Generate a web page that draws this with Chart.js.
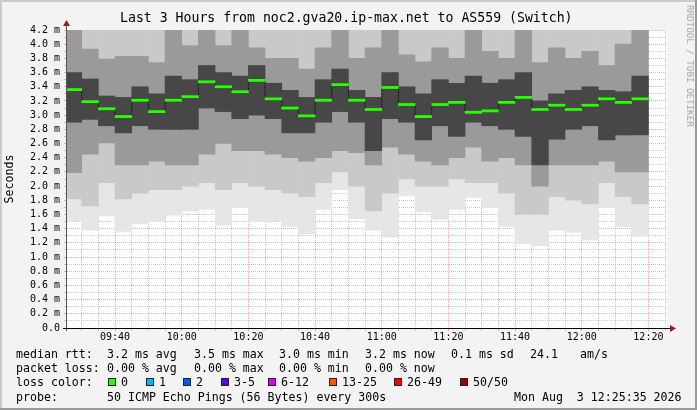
<!DOCTYPE html>
<html>
<head>
<meta charset="utf-8">
<script src="https://cdn.jsdelivr.net/npm/chart.js@4.4.1/dist/chart.umd.min.js"></script>
<style>
  html, body { margin: 0; padding: 0; background: #f3f3f3; }
  #wrap { position: relative; width: 697px; height: 410px; overflow: hidden; background: #f3f3f3; }
  #chart { position: absolute; left: 0; top: 0; }
  .t { position: absolute; font-family: "DejaVu Sans Mono", monospace; white-space: pre; color: #000; line-height: 14px; font-size: 11.6px; }
  .title { font-size: 13.2px; line-height: 16px; }
  .wm { font-size: 9.2px; color: #a4a4a4; line-height: 10px; transform: translate(-50%, -50%) rotate(90deg); }
  .box { position: absolute; width: 6px; height: 6px; border: 1px solid #222; }
</style>
</head>
<body>
<div id="wrap">
  <canvas id="chart" width="697" height="410"></canvas>
</div>
<script>
// ---------------- data ----------------
const chartTitle = "Last 3 Hours from noc2.gva20.ip-max.net to AS559 (Switch)";
const yAxisTitle = "Seconds";
const windowStart = "09:25:35";
const windowEnd = "12:25:35";

// end time of each 5-minute step
const slotEnd = ["09:30","09:35","09:40","09:45","09:50","09:55","10:00","10:05","10:10","10:15",
                 "10:20","10:25","10:30","10:35","10:40","10:45","10:50","10:55","11:00","11:05",
                 "11:10","11:15","11:20","11:25","11:30","11:35","11:40","11:45","11:50","11:55",
                 "12:00","12:05","12:10","12:15","12:20"];

// median RTT (ms)
const median = [3.36,3.19,3.09,2.98,3.21,3.05,3.21,3.26,3.47,3.40,
                3.33,3.49,3.23,3.10,2.99,3.21,3.43,3.21,3.08,3.39,
                3.15,2.98,3.15,3.18,3.04,3.06,3.18,3.25,3.08,3.14,
                3.08,3.14,3.23,3.18,3.23];

// smoke bands (ms): sorted-ping levels, lowest to highest
const rttMin = [1.51,1.38,1.58,1.36,1.47,1.50,1.59,1.65,1.67,1.45,
                1.70,1.50,1.51,1.43,1.33,1.67,1.95,1.54,1.38,1.28,
                1.86,1.64,1.53,1.67,1.84,1.70,1.43,1.19,1.16,1.38,
                1.35,1.24,1.70,1.43,1.29];
const rttP10 = [1.82,1.72,2.05,1.82,1.90,1.95,1.95,2.00,2.05,1.95,
                2.05,2.00,1.95,1.90,1.85,2.05,2.20,2.00,1.65,1.90,
                2.10,2.00,2.00,2.10,2.05,2.05,1.90,1.60,1.60,1.85,
                1.80,1.75,2.05,1.85,1.75];
const rttP25 = [2.19,2.45,2.61,2.30,2.30,2.35,2.30,2.30,2.45,2.60,
                2.50,2.50,2.45,2.40,2.35,2.40,2.50,2.47,2.30,2.55,
                2.45,2.35,2.30,2.40,2.55,2.35,2.40,2.30,2.00,2.30,
                2.30,2.30,2.35,2.20,2.20];
const rttP40 = [2.90,2.94,2.85,2.75,2.85,2.80,2.80,2.80,3.10,3.05,
                2.95,3.00,2.95,2.75,2.75,2.90,3.05,2.90,2.50,2.95,
                2.90,2.65,2.85,2.70,2.90,2.85,2.80,2.70,2.30,2.66,
                2.80,2.85,2.65,2.72,2.72];
const rttP60 = [3.60,3.51,3.27,3.25,3.40,3.30,3.55,3.50,3.70,3.60,
                3.55,3.70,3.45,3.35,3.25,3.50,3.65,3.35,3.25,3.60,
                3.40,3.30,3.50,3.45,3.55,3.45,3.50,3.60,3.20,3.30,
                3.35,3.40,3.35,3.33,3.55];
const rttP75 = [4.30,3.93,3.79,3.83,3.83,3.74,4.30,3.98,4.30,3.98,
                4.30,3.95,3.80,3.80,3.65,3.95,4.30,3.80,3.95,4.30,
                3.85,3.75,3.95,3.80,4.30,3.90,3.80,4.30,3.74,3.95,
                3.80,3.90,3.70,4.00,4.30];
const rttP90 = [4.50,4.40,4.30,4.30,4.30,4.25,4.50,4.40,4.50,4.40,
                4.50,4.40,4.30,4.30,4.20,4.40,4.50,4.30,4.30,4.50,
                4.40,4.30,4.40,4.30,4.50,4.40,4.30,4.50,4.25,4.30,
                4.30,4.30,4.25,4.35,4.50];
const rttMax = [4.80,4.80,4.80,4.80,4.80,4.80,4.80,4.80,4.80,4.80,
                4.80,4.80,4.80,4.80,4.80,4.80,4.80,4.80,4.80,4.80,
                4.80,4.80,4.80,4.80,4.80,4.80,4.80,4.80,4.80,4.80,
                4.80,4.80,4.80,4.80,4.80];

const xTickLabels = ["09:40","10:00","10:20","10:40","11:00","11:20","11:40","12:00","12:20"];
const yTickLabels = ["0.0","0.2 m","0.4 m","0.6 m","0.8 m","1.0 m","1.2 m","1.4 m","1.6 m","1.8 m","2.0 m",
                     "2.2 m","2.4 m","2.6 m","2.8 m","3.0 m","3.2 m","3.4 m","3.6 m","3.8 m","4.0 m","4.2 m"];
const yMax = 4.2;

const rttStats  = ["3.2 ms avg","3.5 ms max","3.0 ms min","3.2 ms now","0.1 ms sd","24.1","am/s"];
const lossStats = ["0.00 % avg","0.00 % max","0.00 % min","0.00 % now"];
const lossLabels = ["0","1","2","3-5","6-12","13-25","26-49","50/50"];
const lossColors = ["#26ff00","#00b8ff","#0059ff","#5e00ff","#dd00ff","#ff5500","#ff0000","#a00000"];
const probeText = "50 ICMP Echo Pings (56 Bytes) every 300s";
const stampText = "Mon Aug  3 12:25:35 2026";

// ---------------- layout / style ----------------
const FONT = '"DejaVu Sans Mono", monospace';
const STEP_MIN = 5;
const MEDIAN_HALF = 0.015;   // half thickness of the median mark, in ms
const MAJOR_GRID = 'rgba(255,80,80,0.5)';
const MINOR_GRID = 'rgba(150,150,150,0.5)';

function toMin(s) { const p = s.split(':').map(Number); return (p[0] - 9) * 60 + p[1] + (p[2] || 0) / 60; }
function fmtMin(m) { const h = 9 + Math.floor(m / 60), mm = Math.round(m % 60); return String(h).padStart(2,'0') + ':' + String(mm).padStart(2,'0'); }

const xMin = toMin(windowStart), xMax = toMin(windowEnd);
const xs = slotEnd.map(s => toMin(s) - STEP_MIN / 2);
const majorX = new Set(xTickLabels.map(toMin));

function band(lo, hi) { return xs.map((x, i) => ({ x: x, y: [lo[i], hi[i]] })); }

const barBase = { type: 'bar', grouped: false, barPercentage: 1, categoryPercentage: 1, borderWidth: 0, clip: 0 };

const xGridTicks = [];
for (let m = Math.ceil(xMin / STEP_MIN) * STEP_MIN; m <= xMax; m += STEP_MIN) xGridTicks.push(m);
const yGridTicks = [];
for (let i = 0; i <= Math.round(yMax * 10); i++) yGridTicks.push(i / 10);

const bgPlugin = {
  id: 'bg',
  beforeDraw(chart) {
    const { ctx, chartArea: a } = chart;
    ctx.save();
    ctx.fillStyle = '#ffffff';
    ctx.fillRect(a.left, a.top, a.right - a.left, a.bottom - a.top);
    ctx.restore();
  },
  afterDraw(chart) {
    const { ctx, chartArea: a, width, height } = chart;
    ctx.save();
    // axes
    ctx.lineWidth = 1;
    ctx.strokeStyle = '#555';
    ctx.beginPath(); ctx.moveTo(a.left - 0.5, a.bottom + 3); ctx.lineTo(a.left - 0.5, a.top - 5); ctx.stroke();
    ctx.strokeStyle = '#000';
    ctx.beginPath(); ctx.moveTo(a.left - 4, a.bottom + 0.5); ctx.lineTo(a.right + 4, a.bottom + 0.5); ctx.stroke();
    // arrows
    ctx.fillStyle = '#a01818';
    ctx.beginPath(); ctx.moveTo(a.left - 0.5, a.top - 10); ctx.lineTo(a.left - 4, a.top - 4); ctx.lineTo(a.left + 3, a.top - 4); ctx.closePath(); ctx.fill();
    ctx.beginPath(); ctx.moveTo(a.right + 9, a.bottom + 0.5); ctx.lineTo(a.right + 3, a.bottom - 3); ctx.lineTo(a.right + 3, a.bottom + 4); ctx.closePath(); ctx.fill();
    // frame shading
    ctx.fillStyle = '#cbcbcb';
    ctx.fillRect(0, 0, width, 2); ctx.fillRect(0, 0, 2, height);
    ctx.fillStyle = '#999999';
    ctx.fillRect(0, height - 2, width, 2); ctx.fillRect(width - 2, 0, 2, height);
    ctx.restore();
  }
};

const chart = new Chart(document.getElementById('chart'), {
  type: 'bar',
  data: {
    datasets: [
      { ...barBase, label: 'max', data: band(rttMin, rttMax), backgroundColor: '#e6e6e6', order: 10 },
      { ...barBase, label: 'p90', data: band(rttP10, rttP90), backgroundColor: '#c9c9c9', order: 9 },
      { ...barBase, label: 'p75', data: band(rttP25, rttP75), backgroundColor: '#9a9a9a', order: 8 },
      { ...barBase, label: 'p60', data: band(rttP40, rttP60), backgroundColor: '#474747', order: 7 },
      { type: 'line', label: 'median step', data: xs.map((x, i) => ({ x: x, y: median[i] })), stepped: 'middle',
        borderColor: '#000', borderWidth: 1, borderDash: [1, 1], pointRadius: 0, clip: 0, order: 2 },
      { ...barBase, label: 'median', data: xs.map((x, i) => ({ x: x, y: [median[i] - MEDIAN_HALF, median[i] + MEDIAN_HALF] })),
        backgroundColor: lossColors[0], order: 1 }
    ]
  },
  options: {
    responsive: false,
    animation: false,
    devicePixelRatio: 1,
    layout: { padding: { top: 30, right: 30, bottom: 62, left: 0 } },
    plugins: { legend: { display: false }, tooltip: { enabled: false }, title: { display: false } },
    scales: {
      x: {
        type: 'linear', min: xMin, max: xMax, offset: false, z: 1,
        afterBuildTicks: s => { s.ticks = xGridTicks.map(v => ({ value: v })); },
        afterFit: s => { s.height = 20; },
        grid: {
          offset: false, drawTicks: true, tickLength: 3, lineWidth: 1,
          color: c => (c.tick && majorX.has(c.tick.value)) ? MAJOR_GRID : MINOR_GRID,
          tickColor: c => (c.tick && majorX.has(c.tick.value)) ? MAJOR_GRID : MINOR_GRID
        },
        border: { display: false, dash: [1, 1] },
        ticks: {
          autoSkip: false, maxRotation: 0, minRotation: 0, padding: 0, color: '#000',
          font: { family: FONT, size: 10 },
          callback: v => majorX.has(v) ? xTickLabels[xTickLabels.indexOf(fmtMin(v))] : ''
        }
      },
      y: {
        type: 'linear', min: 0, max: yMax, z: 1,
        afterBuildTicks: s => { s.ticks = yGridTicks.map(v => ({ value: v })); },
        afterFit: s => { s.width = 67; },
        grid: {
          drawTicks: true, tickLength: 3, lineWidth: 1,
          color: c => (c.tick && Math.round(c.tick.value * 10) % 2 === 0) ? MAJOR_GRID : MINOR_GRID,
          tickColor: c => (c.tick && Math.round(c.tick.value * 10) % 2 === 0) ? MAJOR_GRID : MINOR_GRID
        },
        border: { display: false, dash: [1, 1] },
        ticks: {
          autoSkip: false, padding: 4, color: '#000',
          font: { family: FONT, size: 10 },
          callback: v => { const i = Math.round(v * 10); return i % 2 === 0 ? yTickLabels[i / 2] : ''; }
        },
        title: { display: true, text: yAxisTitle, color: '#000', font: { family: FONT, size: 11.6 }, padding: { top: 3.5, bottom: 0 } }
      }
    }
  },
  plugins: [bgPlugin]
});

// ---------------- text blocks (title, legend, credit) ----------------
const wrap = document.getElementById('wrap');
function addText(cls, txt, left, top) {
  const d = document.createElement('div');
  d.className = 't ' + cls;
  d.textContent = txt;
  d.style.left = left + 'px';
  d.style.top = top + 'px';
  wrap.appendChild(d);
  return d;
}
addText('title', chartTitle, 120, 10);
addText('wm', 'RRDTOOL / TOBI OETIKER', 690, 66);

const row = [347, 361, 374.5, 390];
const statX = [107, 194, 279, 365, 451, 530, 580];
addText('', 'median rtt:', 16, row[0]);
rttStats.forEach((s, i) => addText('', s, statX[i], row[0]));
addText('', 'packet loss:', 16, row[1]);
lossStats.forEach((s, i) => addText('', s, statX[i], row[1]));
addText('', 'loss color:', 16, row[2]);
const lossTextX = [121, 159, 196, 234, 281, 342, 407, 473];
lossLabels.forEach((s, i) => {
  const b = document.createElement('div');
  b.className = 'box';
  b.style.left = (lossTextX[i] - 13) + 'px';
  b.style.top = (row[2] + 3) + 'px';
  b.style.background = lossColors[i];
  wrap.appendChild(b);
  addText('', s, lossTextX[i], row[2]);
});
addText('', 'probe:', 16, row[3]);
addText('', probeText, 107, row[3]);
addText('', stampText, 514, row[3]);
</script>
</body>
</html>
